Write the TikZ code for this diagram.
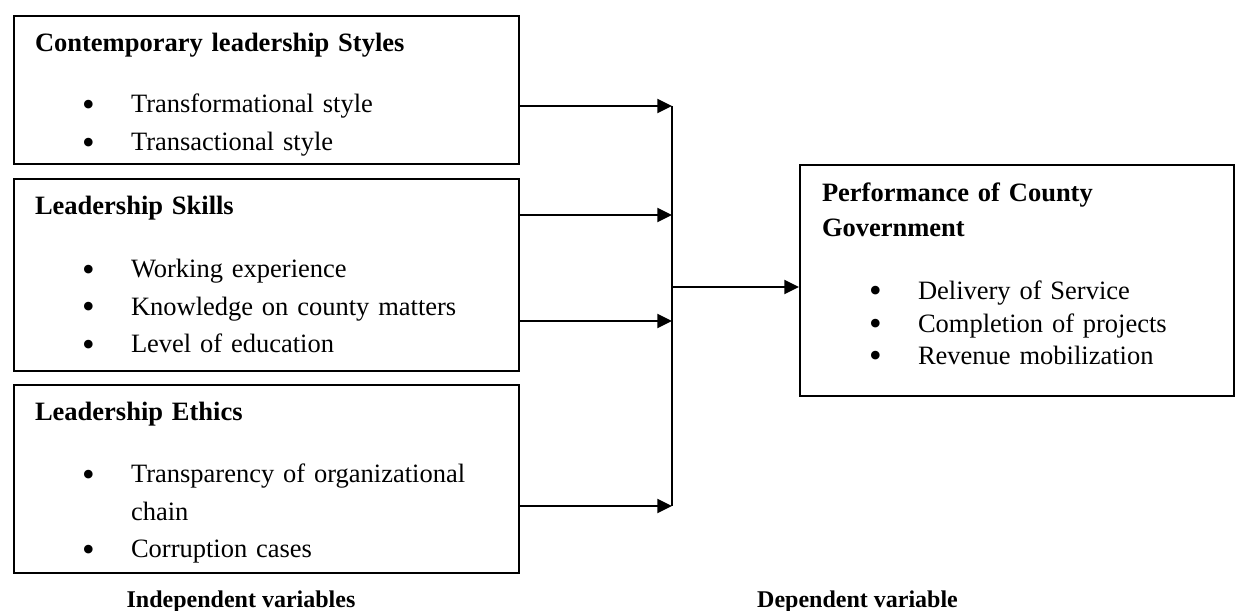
\documentclass[tikz,border=0pt]{standalone}
\usepackage{fontspec}
\setmainfont{Liberation Serif}
\usetikzlibrary{arrows.meta,positioning}

\newcommand{\bitem}[1]{\hspace*{23.5pt}\makebox[24.5pt][l]{\smash{\raisebox{-1.8pt}{\fontsize{18}{0}\selectfont\textbullet}}}#1}
\newcommand{\head}[1]{\rule{0pt}{18pt}\textbf{#1}}

\begin{document}
\begin{tikzpicture}[x=0.5pt,y=-0.5pt,line width=1pt,>={Triangle[length=7.3pt,width=7pt]},
  every node/.style={font=\fontsize{13.25}{18.75}\selectfont},
  var/.style={draw,line width=1pt,anchor=north west,align=left,inner xsep=10.5pt,inner ysep=0pt,text width=231.5pt},
  lbl/.style={font=\fontsize{12}{14}\selectfont\bfseries,anchor=base}]
\useasboundingbox (0,0) rectangle (1235,610);
% independent variables
\node[var] (styles) at (13,15) {\head{Contemporary leadership Styles}\\[11.75pt]
  \bitem{Transformational style}\\
  \bitem{Transactional style}\rule[-6.5pt]{0pt}{6.5pt}};
\node[var,below=6.5pt of styles] (skills) {\head{Leadership Skills}\\[12.75pt]
  \bitem{Working experience}\\
  \bitem{Knowledge on county matters}\\
  \bitem{Level of education}\rule[-9pt]{0pt}{9pt}};
\node[var,below=6pt of skills] (ethics) {\head{Leadership Ethics}\\[12.25pt]
  \bitem{Transparency of organizational}\\
  \hspace*{48pt}chain\\
  \bitem{Corruption cases}\rule[-7.5pt]{0pt}{7.5pt}};
% dependent variable
\node[var,text width=195pt,inner xsep=11pt] (perf) at (799,164) {\head{Performance of County}\\[-1.25pt]
  \textbf{Government}\\[12.75pt]
  \bitem{Delivery of Service}\\[-2.25pt]
  \bitem{Completion of projects}\\[-2.75pt]
  \bitem{Revenue mobilization}\rule[-16pt]{0pt}{16pt}};
% junction
\coordinate (j1) at (672,106);
\coordinate (j2) at (672,215);
\coordinate (j3) at (672,321);
\coordinate (j4) at (672,506);
\coordinate (jm) at (672,287);
\draw[->] (styles.east |- j1) -- (j1);
\draw[->] (skills.east |- j2) -- (j2);
\draw[->] (skills.east |- j3) -- (j3);
\draw[->] (ethics.east |- j4) -- (j4);
\draw (j1) -- (j4);
\draw[->] (jm) -- (perf.west |- jm);
% captions
\node[lbl] (indep) at (241,607) {Independent variables};
\node[lbl] (dep) at (857.5,607) {Dependent variable};
\end{tikzpicture}
\end{document}
